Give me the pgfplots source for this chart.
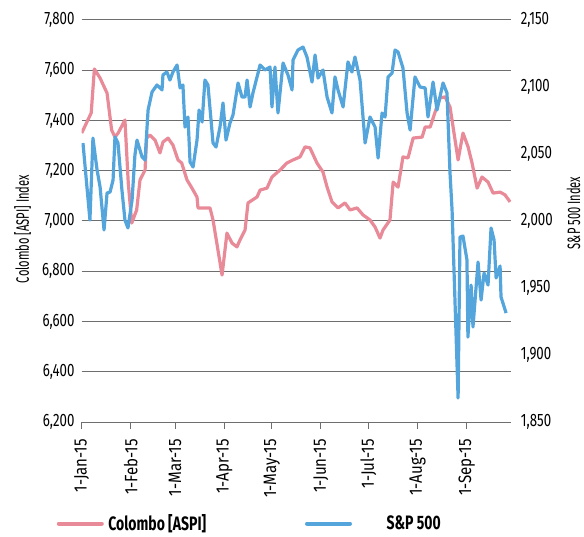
\documentclass[border=0pt]{standalone}
\usepackage{pgfplots}
\pgfplotsset{compat=1.18}
\usepackage{fontspec}
\setmainfont{Fira Sans}[FakeStretch=0.74]
\newfontfamily\xtfont{Fira Sans}[FakeStretch=0.84]
\newfontfamily\labfont{Fira Sans}[FakeStretch=0.62]
\newfontfamily\legfont{Fira Sans}[FakeStretch=0.72]
\definecolor{aspi}{RGB}{233,138,152}
\definecolor{spx}{RGB}{84,165,220}
\definecolor{gridc}{RGB}{110,110,110}

\pgfplotsset{
  common/.style={
    scale only axis, width=429.3bp, height=402bp,
    xmin=0, xmax=271,
    tick label style={font=\fontsize{18}{20}\selectfont},
    /pgf/number format/assume math mode=true,
    /pgf/number format/1000 sep={,},
    tick align=outside, major tick length=7bp,
    y tick style={draw=none},
    yticklabel style={inner sep=0pt},
  },
}

\begin{document}
\begin{tikzpicture}
\path[use as bounding box] (-81.7bp,-115bp) rectangle (502.3bp,422bp);

% left axis: Colombo ASPI
\begin{axis}[common,
  ymin=6200, ymax=7800, ytick={6200,6400,...,7800},
  axis x line*=bottom, axis y line*=left,
  x axis line style={-, gridc, line width=1bp},
  y axis line style={draw=none},
  ymajorgrids, grid style={gridc, line width=1bp},
  xtick={0,31,59,90,120,151,181,212,243},
  xticklabels={1-Jan-15,1-Feb-15,1-Mar-15,1-Apr-15,1-May-15,1-Jun-15,1-Jul-15,1-Aug-15,1-Sep-15},
  xticklabel style={rotate=90, anchor=east, inner xsep=10bp, inner ysep=0pt,
    font=\xtfont\fontsize{18}{20}\selectfont},
  x tick style={gridc, line width=1bp},
  ylabel={Colombo [ASPI] Index},
  every axis y label/.style={at={(axis description cs:-0.1379,0.48)}, rotate=90, anchor=center,
    font=\labfont\fontsize{18}{20}\selectfont},
]
\addplot[aspi, line width=3.2bp, line join=round] coordinates {
(0,7350)(6,7430)(8,7605)(11.6,7569)(16,7509)(18.9,7362)(21,7334)(23,7350)(27.3,7402)
(29.4,7151)(31.6,6992)(34.7,7044)(36.8,7163)(40,7203)(41,7330)(43.1,7342)(46.3,7322)
(49.4,7271)(51.3,7314)(54.5,7330)(57.6,7302)(60.8,7243)(63.1,7231)(66.5,7163)(69.6,7131)
(72.8,7095)(73.4,7052)(81,7052)(82.9,7004)(88.6,6785)(91.7,6952)(94.9,6912)(98,6897)
(99.9,6924)(103.1,6964)(105,7072)(110.7,7096)(112.6,7123)(117,7131)(120.1,7175)(125.2,7203)
(129.6,7231)(133.4,7243)(137.8,7255)(141,7295)(144.1,7291)(148.5,7231)(152.3,7195)(154.9,7135)
(158,7076)(161.8,7052)(166.2,7072)(169.4,7044)(173.8,7052)(177.6,7024)(182,7004)(185.2,6976)
(188.3,6932)(190.2,6964)(194.6,7004)(196.6,7155)(199.7,7135)(202.8,7255)(206,7251)(209.2,7330)
(214.9,7334)(216.8,7374)(220,7374)(223.1,7434)(226.2,7490)(229.4,7494)(232.5,7454)(235.7,7322)
(237.6,7243)(240.7,7350)(243.9,7295)(246.4,7231)(249.6,7131)(252.7,7175)(256.5,7155)(259.7,7111)
(264.1,7115)(267.2,7104)(270.4,7076)
};
\end{axis}

% right axis: S&P 500
\begin{axis}[common,
  ymin=1850, ymax=2150, ytick={1850,1900,...,2150},
  axis x line=none, axis y line*=right,
  y axis line style={draw=none},
  yticklabel style={anchor=west, xshift=2.7bp},
  ylabel={S\&P 500 Index},
  every axis y label/.style={at={(axis description cs:1.1456,0.52)}, rotate=90, anchor=center,
    font=\labfont\fontsize{18}{20}\selectfont},
  legend columns=2,
  legend style={at={(axis description cs:-0.0622,-0.2525)}, anchor=west, draw=none, fill=none,
    inner sep=0pt, nodes={inner sep=0pt, anchor=west},
    font=\legfont\bfseries\fontsize{19.5}{22}\selectfont},
  legend image code/.code={\path (0bp,0bp) (47bp,0bp);
    \draw[#1, line cap=round, line width=4bp] (2bp,0bp) -- (45bp,0bp);},
]
\addlegendimage{aspi, line width=3.2bp}
\addlegendentry{\hspace*{3bp}\makebox[195bp][l]{Colombo [ASPI]}}
\addplot[spx, line width=3.2bp, line join=round] coordinates {
(0.8,2058.2)(5.2,2000.7)(7.1,2061.9)(9.7,2038.1)(11.6,2025.4)(14.1,1993.3)(16,2020.9)
(17.9,2021.6)(19.8,2030.6)(21,2062.7)(22.9,2058.2)(25.4,2023.1)(27.3,2000.7)(29.2,1994.8)
(31.8,2015.7)(33.6,2049.2)(34.9,2060.4)(38.1,2047.8)(40,2045.5)(41.9,2082.8)(44.4,2096.3)
(47.5,2101.5)(50.7,2097.8)(51.3,2109)(53.8,2111.2)(55.7,2105.2)(57.6,2111.2)(60.2,2116.4)
(62.1,2099.3)(63.9,2101.5)(65.2,2070.1)(67.1,2077.6)(68.4,2044)(70.3,2040.3)(72.8,2060.4)
(74.1,2082.8)(76,2073.9)(77.8,2105.2)(79.7,2101.5)(82.9,2058.2)(84.8,2055.2)(87.3,2070.1)
(89.2,2088.1)(91.1,2060.4)(93.6,2073.1)(95.5,2079.1)(98.7,2103)(101.2,2092.5)(103.1,2092.5)
(104.4,2105.2)(106.3,2085.1)(108.1,2095.5)(112.6,2116.4)(115.7,2112.7)(118.9,2114.9)
(120.1,2085.1)(122,2114.9)(123.9,2080.6)(127.1,2117.9)(130.2,2109)(132.8,2097.8)(133.4,2120.1)
(136.5,2127.6)(139.7,2129.8)(142.2,2122.4)(145.4,2103.7)(147.3,2123.9)(149.2,2106.7)
(152.3,2112.7)(154.9,2092.5)(158,2080.6)(159.9,2107.5)(161.8,2097.8)(165,2085.1)(168.1,2118.7)
(170.6,2111.2)(172.5,2122.4)(175.7,2105.2)(178.9,2058.2)(182,2077.6)(185.2,2070.1)(187.1,2047)
(189.6,2080.6)(191.5,2077.6)(193.4,2107.5)(195.9,2110.4)(197.8,2127.6)(199.7,2126.1)
(202.8,2114.2)(205.4,2080.6)(207.3,2067.9)(210.4,2107.5)(213.6,2100)(216.8,2099.3)(218.6,2077.6)
(221.8,2103.7)(224.3,2082.8)(228.1,2103)(230.6,2095.5)(232.5,2035.8)(233.8,2008.2)(237.6,1867.9)
(238.8,1988)(240.7,1988.8)(243.2,1970.9)(243.8,1913.4)(245.8,1952.2)(247,1920.9)(250.2,1969.4)
(252.1,1941)(254,1961.2)(256.5,1952.2)(258.4,1994.8)(260.3,1985.8)(261.6,1957.5)(264.1,1966.4)
(264.7,1943.3)(267.9,1931.3)
};
\addlegendentry{\hspace*{33bp}S\&P 500}
\end{axis}
\end{tikzpicture}
\end{document}
